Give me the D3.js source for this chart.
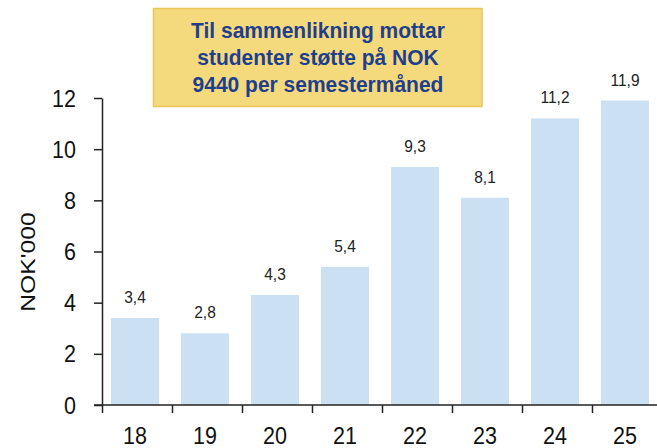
<!DOCTYPE html>
<html><head><meta charset="utf-8">
<script src="https://cdn.jsdelivr.net/npm/d3@7"></script>
<style>body{margin:0;background:#fff}svg{display:block}</style>
</head><body>
<svg id="c" width="657" height="448"></svg>
<script>
const categories = ["18","19","20","21","22","23","24","25"];
const values = [3.4, 2.8, 4.3, 5.4, 9.3, 8.1, 11.2, 11.9];
const yTicks = [0,2,4,6,8,10,12];
const yTitle = "NOK'000";
const noteLines = ["Til sammenlikning mottar","studenter støtte på NOK","9440 per semestermåned"];

const svg = d3.select("#c");
const font = "'Liberation Sans', Arial, sans-serif";
const x = d3.scaleBand().domain(categories).range([101, 661]).paddingInner(0.314).paddingOuter(0.157);
const y = d3.scaleLinear().domain([0,12]).range([405, 98]);

// bars
svg.selectAll("rect.bar").data(values).join("rect").attr("class","bar")
  .attr("x",(d,i)=>x(categories[i])-1).attr("width",x.bandwidth())
  .attr("y",d=>y(d)).attr("height",d=>y(0)-y(d)).attr("fill","#CCE0F3");

// value labels
svg.selectAll("text.lbl").data(values).join("text").attr("class","lbl")
  .attr("transform",(d,i)=>`translate(${x(categories[i])-1+x.bandwidth()/2},${y(d)-15}) scale(1,1.08)`)
  .attr("text-anchor","middle").attr("font-family",font).attr("font-size",15.5).attr("fill","#222")
  .text(d=>d.toFixed(1).replace(".",","));

// y axis
const ya = svg.append("g").attr("transform","translate(102,0)")
  .call(d3.axisLeft(y).tickValues(yTicks).tickSize(8).tickSizeOuter(0).tickPadding(0));
ya.select(".domain").attr("stroke","#222").attr("stroke-width",1.5);
ya.selectAll(".tick line").attr("stroke","#222").attr("stroke-width",1.5);
ya.selectAll(".tick text").attr("x",null).attr("dy",null)
  .attr("transform","translate(-26,8) scale(1,1.12)")
  .attr("font-family",font).attr("font-size",21.5).attr("fill","#111");

// x axis with ticks between categories
const xa = svg.append("g").attr("transform","translate(0,405)");
xa.append("line").attr("x1",94).attr("x2",657).attr("y1",0).attr("y2",0).attr("stroke","#222").attr("stroke-width",1.5);
const bounds = categories.map(c=>x(c)-x.step()*x.paddingInner()/2);
xa.selectAll("line.t").data(bounds).join("line").attr("class","t")
  .attr("x1",d=>d+1.5).attr("x2",d=>d+1.5).attr("y1",0).attr("y2",8).attr("stroke","#222").attr("stroke-width",1.5);
xa.selectAll("text").data(categories).join("text")
  .attr("transform",d=>`translate(${x(d)-1+x.bandwidth()/2},39) scale(1,1.1)`).attr("text-anchor","middle")
  .attr("font-family",font).attr("font-size",21.5).attr("fill","#111").text(d=>d);

// y title
svg.append("text").attr("transform","translate(35,262) rotate(-90) scale(1.18,1)").attr("text-anchor","middle")
  .attr("font-family",font).attr("font-size",21).attr("fill","#111").text(yTitle);

// note box
svg.append("rect").attr("x",153.5).attr("y",8.5).attr("width",328.5).attr("height",98)
  .attr("fill","#F5D97D").attr("stroke","#E9C659").attr("stroke-width",1.5);
svg.selectAll("text.note").data(noteLines).join("text").attr("class","note")
  .attr("transform",(d,i)=>`translate(318,${38+i*27}) scale(1,1.06)`).attr("text-anchor","middle")
  .attr("font-family",font).attr("font-size",21).attr("font-weight","bold").attr("fill","#1F3F8C")
  .text(d=>d);
</script>
</body></html>
